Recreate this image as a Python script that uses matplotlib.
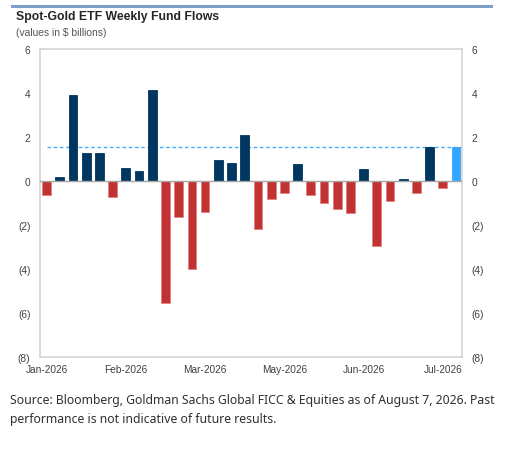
import matplotlib
matplotlib.use('Agg')
import matplotlib.pyplot as plt
from matplotlib.ticker import FuncFormatter

# weekly flows, $bn
flows = [-0.65, 0.18, 3.90, 1.29, 1.26, -0.74, 0.58, 0.45, 4.12, -5.53,
         -1.65, -3.98, -1.41, 0.94, 0.80, 2.08, -2.18, -0.83, -0.53, 0.77,
         -0.62, -0.98, -1.27, -1.47, 0.56, -2.97, -0.91, 0.11, -0.53, 1.53,
         -0.33, 1.53]
month_labels = ['Jan-2026', 'Feb-2026', 'Mar-2026', 'May-2026', 'Jun-2026', 'Jul-2026']
latest = flows[-1]

navy = '#003660'
red = '#C13232'
light = '#33A6FF'

plt.rcParams['font.family'] = ['Liberation Sans', 'DejaVu Sans']

W, H = 516, 452
fig = plt.figure(figsize=(W / 100, H / 100), dpi=100)
ax = fig.add_axes([40 / W, 1 - 358 / H, 422 / W, 308 / H])

x = list(range(len(flows)))
colors = []
edges = []
for i, v in enumerate(flows):
    if i == len(flows) - 1:
        colors.append(light)
        edges.append(light)
    elif v >= 0:
        colors.append(navy)
        edges.append(navy)
    else:
        colors.append(red)
        edges.append('#E48080')
ax.bar(x, flows, width=0.66, color=colors, edgecolor=edges, linewidth=0.6, zorder=3)

ax.axhline(0, color='#A6A6A6', linewidth=1.0, zorder=4)
# dashed line at the latest week's flow
ax.hlines(latest, 0, len(flows), colors='#3DAEFF', linestyles=(0, (2.5, 2)),
          linewidth=1.0, zorder=2)

ax.set_ylim(-8, 6)
ax.set_xlim(-0.5, 31.45)
ax.set_yticks(range(-8, 7, 2))
ax.yaxis.set_major_formatter(FuncFormatter(lambda v, p: f'({abs(int(v))})' if v < 0 else f'{int(v)}'))
ax.set_xticks(range(0, len(flows), 6))
ax.set_xticklabels(month_labels)
ax.tick_params(axis='both', length=0, labelsize=7.3, colors='#404040')
ax.tick_params(axis='y', labelright=True, pad=7)
ax.tick_params(axis='x', pad=5)
for s in ax.spines.values():
    s.set_color('#D4D4D4')
    s.set_linewidth(1.2)

# header
fig.add_artist(plt.Line2D([12 / W, 491 / W], [1 - 7 / H, 1 - 7 / H], color='#7F9FCB', linewidth=2.2))
fig.text(16 / W, 1 - 17 / H, 'Spot-Gold ETF Weekly Fund Flows', fontsize=8.8, fontweight='bold',
         color='#262626', va='center')
fig.text(16 / W, 1 - 33 / H, '(values in $ billions)', fontsize=7.4, color='#555555', va='center')

# source note
fig.text(10 / W, 1 - 401 / H,
         'Source: Bloomberg, Goldman Sachs Global FICC & Equities as of August 7, 2026. Past',
         fontsize=8.8, color='#303030', va='center', family=['Noto Sans', 'DejaVu Sans'])
fig.text(10 / W, 1 - 420 / H, 'performance is not indicative of future results.',
         fontsize=8.8, color='#303030', va='center', family=['Noto Sans', 'DejaVu Sans'])

fig.savefig('out.png', dpi=100)
plt.close(fig)
